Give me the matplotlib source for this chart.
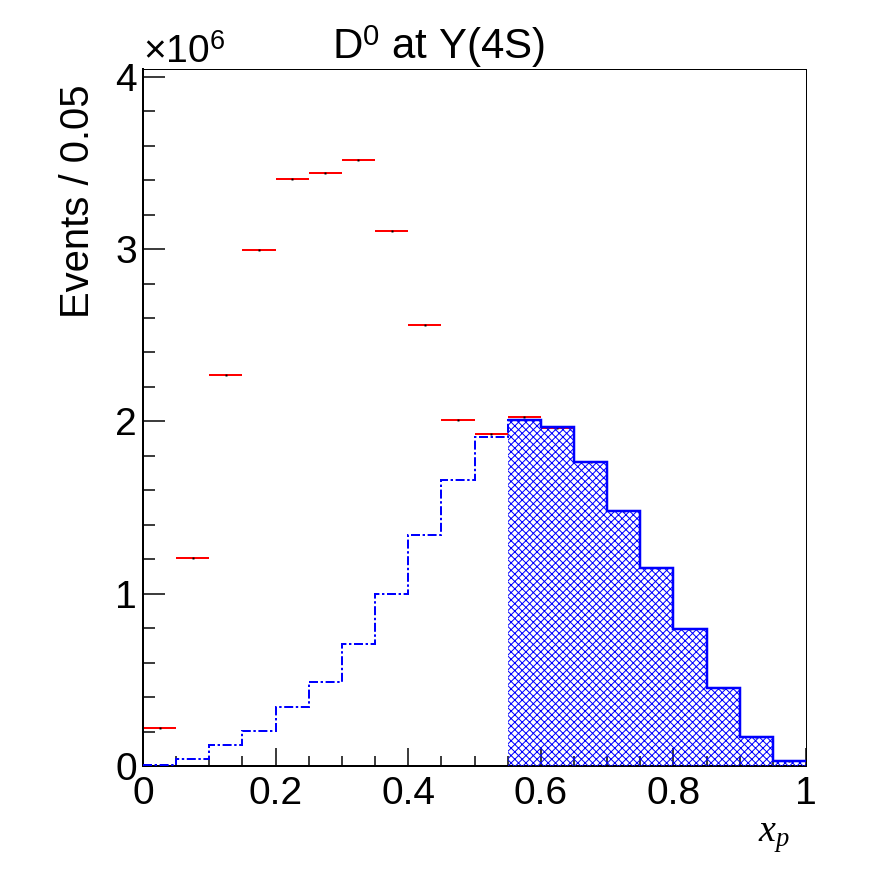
import numpy as np
import matplotlib
matplotlib.use('Agg')
import matplotlib.pyplot as plt
from matplotlib.ticker import MultipleLocator

# bins in x_p, width 0.05
edges = np.round(np.arange(0, 1.0001, 0.05), 2)
centers = 0.5*(edges[:-1]+edges[1:])

# events per bin, in units of 1e6
data = [0.220, 1.207, 2.268, 2.995, 3.406, 3.443, 3.516, 3.106, 2.560, 2.006,
        1.927, 2.026, 1.962, 1.764, 1.482, 1.149, 0.797, 0.452, 0.167, 0.028]
model = [0.008, 0.038, 0.121, 0.206, 0.341, 0.487, 0.707, 0.998, 1.339, 1.658,
         1.909, 2.006, 1.968, 1.764, 1.482, 1.149, 0.797, 0.452, 0.167, 0.028]
cut = 11   # hatched part starts at x_p = 0.55

title = 'D$^\\mathrm{0}$ at Y(4S)'
ylab = 'Events / 0.05'
xlab = '$x_p$'
scale_txt = '\u00d710$^\\mathrm{6}$'

DPI = 200
px = 72.0/DPI   # one pixel in points

plt.rcParams['font.family'] = ['Liberation Sans', 'DejaVu Sans']
plt.rcParams['mathtext.fontset'] = 'custom'
plt.rcParams['mathtext.rm'] = 'Liberation Sans'
plt.rcParams['mathtext.it'] = 'Liberation Serif:italic'
plt.rcParams['hatch.linewidth'] = 1.0*px

fs = 39*px

fig = plt.figure(figsize=(896/DPI, 872/DPI), dpi=DPI)
ax = fig.add_axes([143/896, 1-766/872, (806-143)/896, (766-69)/872])

# data points (red, x error bars)
ax.errorbar(centers, data, xerr=0.025, fmt='none', ecolor='red',
            elinewidth=2*px, capsize=0, zorder=2)
ax.plot(centers, data, 's', ms=2*px, color='k', mec='none', zorder=2)

# dash-dotted model over the full range
ax.stairs(model, edges, baseline=None, color='blue', linewidth=2*px,
          linestyle=(0, (4.5, 1.3, 1.2, 1.3)), zorder=3)
# hatched part above 0.55
ax.stairs(model[cut:], edges[cut:], baseline=0, fill=True, facecolor='none',
          edgecolor='blue', linewidth=0, hatch='x'*9, zorder=3)
ax.stairs(model[cut:], edges[cut:], baseline=None, color='blue',
          linewidth=2.5*px, zorder=4)

ax.set_xlim(0, 1)
ax.set_ylim(0, 4.045)
ax.xaxis.set_minor_locator(MultipleLocator(0.05))
ax.yaxis.set_minor_locator(MultipleLocator(0.2))
ax.set_xticks([0, 0.2, 0.4, 0.6, 0.8, 1.0])
ax.set_xticklabels(['0', '0.2', '0.4', '0.6', '0.8', '1'])
ax.set_yticks([0, 1, 2, 3, 4])
ax.set_yticklabels(['0', '1', '2', '3', '4'])

ax.tick_params(axis='both', which='both', direction='in', width=1.5*px,
               labelsize=fs, top=False, right=False)
ax.tick_params(axis='x', which='major', length=18*px, pad=10*px)
ax.tick_params(axis='x', which='minor', length=10*px)
ax.tick_params(axis='y', which='major', length=22*px, pad=6*px)
ax.tick_params(axis='y', which='minor', length=12*px)
for s in ['left', 'bottom']:
    ax.spines[s].set_linewidth(2*px)
for s in ['top', 'right']:
    ax.spines[s].set_linewidth(1*px)

fig.text(438.5/896, 1-59/872, title, ha='center', va='baseline', fontsize=42*px)
fig.text(143/896, 1-63/872, scale_txt, ha='left', va='baseline', fontsize=fs)
fig.text(78/896, 1-85/872, ylab, rotation=90, ha='center', va='top', fontsize=40*px)
fig.text(790/896, 1-842/872, xlab, ha='right', va='baseline', fontsize=38*px)

fig.savefig('out.png', dpi=DPI, facecolor='w')
